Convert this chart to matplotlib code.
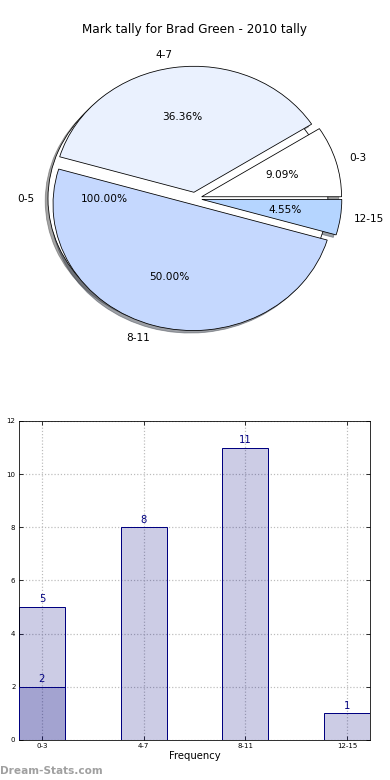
import matplotlib
matplotlib.use('Agg')

import matplotlib.pyplot as plt

# ------------------ DATA ------------------

title = "Mark tally for Brad Green - 2010 tally"

pie_labels = ['0-3', '4-7', '8-11', '12-15']
pie_values = [2, 8, 11, 1]
pie_colors = ['#ffffff', '#eaf1fe', '#c5d8fe', '#b5d5ff']

back_label = ['0-5']
back_value = [5]

bar_labels = ['0-3', '4-7', '8-11', '12-15']
bar_values = [5, 8, 11, 1]
overlay_values = [2]

DPI = 72
fig = plt.figure(figsize=(390 / DPI, 780 / DPI), dpi=DPI)

# ------------------ PIE ------------------

ax1 = fig.add_axes([0.0513, 0.5436, 0.897, 0.4038])
wp = {'edgecolor': 'black', 'linewidth': 0.8}

ax1.pie(back_value, labels=back_label, colors=['white'], autopct='%1.2f%%',
        explode=[0.05], shadow=True, wedgeprops=wp, textprops={'fontsize': 10.5})
ax1.pie(pie_values, labels=pie_labels, colors=pie_colors, autopct='%1.2f%%',
        explode=[0.05] * len(pie_values), shadow=True, wedgeprops=wp,
        textprops={'fontsize': 10.5})
ax1.set_aspect('auto')
ax1.set_xlim(-1.25, 1.25)
ax1.set_ylim(-1.25, 1.25)
ax1.set_title(title, fontsize=12, pad=8)

# ------------------ BARS ------------------

ax2 = fig.add_axes([0.0487, 0.0513, 0.9, 0.409])
xs = list(range(len(bar_labels)))
face = (0, 0, 0.5, 0.2)

ax2.bar(xs, bar_values, width=0.45, color=face, edgecolor='navy', linewidth=1, zorder=2)
ax2.bar(xs[:len(overlay_values)], overlay_values, width=0.45, color=face,
        edgecolor='navy', linewidth=1, zorder=3)

for x, v in zip(xs, bar_values):
    ax2.text(x, v + 0.1, str(v), ha='center', va='bottom', color='navy', fontsize=10, zorder=4)
for x, v in zip(xs, overlay_values):
    ax2.text(x, v + 0.1, str(v), ha='center', va='bottom', color='navy', fontsize=10, zorder=4)

ax2.set_xlim(-0.225, 3.225)
ax2.set_ylim(0, 12)
ax2.set_yticks(range(0, 13, 2))
ax2.set_xticks(xs)
ax2.set_xticklabels(bar_labels)
ax2.tick_params(axis='both', labelsize=7, direction='in', top=True, right=True, length=4)
ax2.grid(True, linestyle=':', color='#bbbbbb', linewidth=1.2, zorder=0)
ax2.set_axisbelow(True)
ax2.set_xlabel('Frequency', fontsize=10, labelpad=2)

fig.text(-0.026, 0.256, 'Stat Mark Tally', rotation=90, ha='left', va='center', fontsize=10)

fig.text(0.0, 0.012, 'Dream-Stats.com', color='#a0a0a0', fontsize=10.5,
         fontweight='bold', ha='left', va='center')

plt.savefig('out.png', dpi=DPI)
plt.close()
